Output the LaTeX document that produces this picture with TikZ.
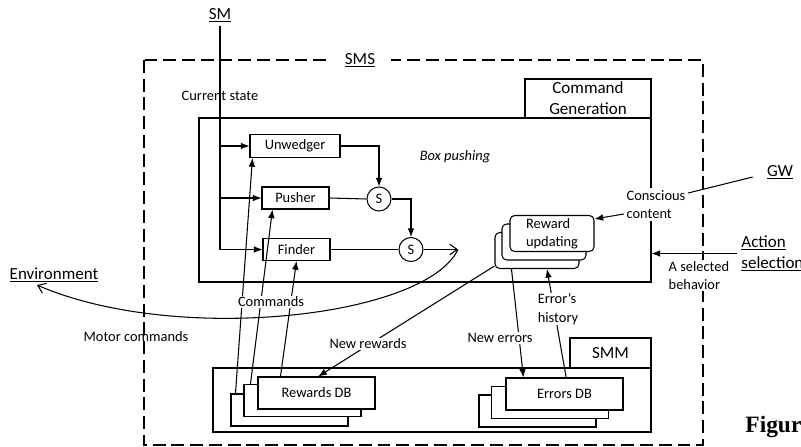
\documentclass[tikz,border=0pt]{standalone}
\usepackage{fontspec}
\setmainfont{Carlito}
\newfontfamily\figfont{Liberation Serif}
\usetikzlibrary{arrows.meta}

\newcommand\lblsize{\fontsize{12.3}{15.5}\selectfont}
\newcommand\hdrsize{\fontsize{14.5}{18}\selectfont}

\tikzset{
	hdr/.style={font=\hdrsize},
	lbl/.style={fill=white, inner sep=1pt},
	box/.style={draw, fill=white, inner sep=0pt, minimum height=0.66cm},
	sumnode/.style={draw, circle, fill=white, inner sep=0pt, minimum size=0.72cm},
	dbbox/.style={draw, fill=white, minimum width=3.51cm, minimum height=0.96cm},
	updbox/.style={draw, fill=white, rounded corners=4pt, inner sep=1pt, minimum width=2.52cm, minimum height=1.08cm},
	cmd/.style={-{Latex[length=2.6mm,width=2mm]}},
	open/.style={-{Straight Barb[length=2.2mm,width=3.2mm]}},
}

\begin{document}
\begin{tikzpicture}[x=0.03cm,y=-0.03cm,line width=0.9pt,font=\lblsize]
		\useasboundingbox (0,0) rectangle (801,447);
		% SMS frame
		\draw[dash pattern=on 11pt off 5pt] (144,60) rectangle (703,445);
		\node[hdr,fill=white,inner xsep=14pt] (sms) at (360,60) {\underline{SMS}};
		% command generation
		\node[draw,minimum width=13.56cm,minimum height=4.92cm] (cg) at (425,200) {};
		\node[draw,hdr,inner sep=0pt,align=center,minimum width=3.78cm,minimum height=1.17cm] (cgtab) at (588,98.5) {Command\\Generation};
		\node[font=\lblsize\itshape] (bp) at (455,157) {Box pushing};
		\node[hdr] (sm) at (220,15) {\underline{SM}};
		\node (cs) at (220,96) {Current state};
		\node[box,minimum width=2.7cm,minimum height=0.69cm] (unw) at (295,146) {Unwedger};
		\node[box,minimum width=2.01cm] (push) at (295.5,198) {Pusher};
		\node[box,minimum width=2.01cm] (fin) at (296.5,249.5) {Finder};
		\node[sumnode] (s1) at (379,199) {S};
		\node[sumnode] (s2) at (411,249.5) {S};
		\coordinate (mc) at (458,249.5);
		\draw (sm.south)--(sm.south |- fin.west);
		\draw[cmd] (sm.south |- unw.west)--(unw.west);
		\draw[cmd] (sm.south |- push.west)--(push.west);
		\draw[cmd] (sm.south |- fin.west)--(fin.west);
		\draw[cmd] (unw.east)-|(s1.north);
		\draw (push.east)--(s1.west);
		\draw[cmd] (s1.east)-|(s2.north);
		\draw (fin.east)--(s2.west);
		\draw[open] (s2.east)--(mc);
		% reward updating
		\node[updbox] (rru3) at (537,250.5) {};
		\node[updbox] (rru2) at (544,242) {};
		\node[updbox,align=left] (rru1) at (552,233.5) {Reward\\updating};
		\node[fill=white,inner sep=2pt,align=left] (cc) at (656,204.5) {Conscious\\content};
		\node[hdr] (gw) at (780,172) {\underline{GW}};
		\draw[cmd] ([yshift=-0.285cm]cc.west)--([yshift=-0.12cm]rru1.north east);
		\draw ([yshift=0.345cm]cc.east)--([xshift=-0.3cm,yshift=-0.15cm]gw.west);
		\node[hdr,anchor=west,align=left] (act) at (737,253.5) {\underline{Action}\\\underline{selection}};
		\draw[cmd] (act.west)--(act.west -| cg.east);
		\node[fill=white,inner sep=1pt,anchor=west,align=left] (selb) at (667,275.5) {A selected\\behavior};
		% environment
		\node[hdr] (env) at (54,275) {\underline{Environment}};
		\coordinate (envin) at (37,285);
		\draw[open] (mc) .. controls (425,318) and (175,345) .. (envin);
		\node (mcl) at (136,337) {Motor commands};
		% SMM
		\node[draw,minimum width=13.14cm,minimum height=1.92cm] (smm) at (432,400) {};
		\node[draw,hdr,minimum width=2.43cm,minimum height=0.9cm] (smmtab) at (610.5,353) {SMM};
		\node[dbbox] (rdb3) at (289.5,410) {};
		\node[dbbox] (rdb2) at (302.5,400.5) {};
		\node[dbbox] (rdb1) at (316.5,393) {Rewards DB};
		\node[dbbox] (edb3) at (537.5,411) {};
		\node[dbbox] (edb2) at (550,402.5) {};
		\node[dbbox] (edb1) at (564.5,394) {Errors DB};
		% commands
		\draw[cmd] ([xshift=0.15cm]rdb3.north west)--([xshift=0.09cm]unw.south west);
		\draw[cmd] ([xshift=0.21cm]rdb2.north west)--([xshift=0.33cm]push.south west);
		\draw[cmd] ([xshift=0.69cm]rdb1.north west)--(fin.south);
		\node[lbl] (cmds) at (271,302) {Commands};
		\draw[cmd] ([yshift=0.09cm]rru3.south west)--([xshift=0.05cm]rdb1.north);
		\node[lbl] (nr) at (368,344) {New rewards};
		\draw[cmd] ([xshift=0.51cm]rru3.south west)--([xshift=0.54cm]edb1.north west);
		\node[lbl] (ne) at (500,338) {New errors};
		\draw[cmd] ([xshift=0.05cm]edb1.north)--([xshift=0.3cm]rru3.south);
		\node[lbl,align=left] (eh) at (558,309) {Error’s\\history};
		\node[anchor=west,font=\figfont\bfseries\fontsize{20}{22}\selectfont] (fig) at (741,427) {Figur};
		\end{tikzpicture}
\end{document}
